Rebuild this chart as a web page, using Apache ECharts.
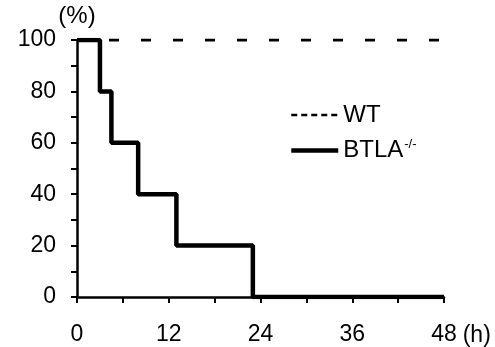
<!DOCTYPE html>
<html><head><meta charset="utf-8">
<script src="https://cdn.jsdelivr.net/npm/echarts@6/dist/echarts.min.js"></script>
<style>html,body{margin:0;padding:0;background:#fff}#c{width:495px;height:347px}</style>
</head><body><div id="c"></div>
<script>
const xTicks = [0, 12, 24, 36, 48];
const yTicks = [0, 20, 40, 60, 80, 100];
const wtTimes = [0, 48];
const wtSurvival = [100, 100];
const btlaTimes = [0, 3, 4.5, 8, 13, 23, 48];
const btlaSurvival = [100, 80, 60, 40, 20, 0, 0];
const seriesNames = ['WT', 'BTLA-/-'];

const zip = (a, b) => a.map((v, i) => [v, b[i]]);
const font = 'Liberation Sans, Arial, sans-serif';
const chart = echarts.init(document.getElementById('c'), null, {renderer: 'canvas'});
chart.setOption({
  animation: false,
  backgroundColor: '#fff',
  grid: {left: 77, right: 51, top: 40, bottom: 49, containLabel: false},
  legend: {
    left: 284, top: 98, orient: 'vertical', itemWidth: 47, itemHeight: 16, itemGap: 11,
    data: [
      {name: seriesNames[0], itemStyle: {opacity: 0}, lineStyle: {color: '#000', width: 2.5, type: [6, 4]}},
      {name: seriesNames[1], itemStyle: {opacity: 0}, lineStyle: {color: '#000', width: 4.5, type: 'solid'}}
    ],
    textStyle: {fontFamily: font, fontSize: 24, color: '#000',
      rich: {a: {fontFamily: font, fontSize: 24, color: '#000'},
             s: {fontFamily: font, fontSize: 13, color: '#000', verticalAlign: 'top', padding: [0, 0, 12, 1]}}},
    formatter: n => n === 'BTLA-/-' ? '{a|BTLA}{s|-/-}' : '{a|' + n + '}'
  },
  xAxis: {
    type: 'value', min: 0, max: 48, interval: 12,
    name: '(h)', nameLocation: 'end', nameGap: 11,
    nameTextStyle: {fontFamily: font, fontSize: 23, color: '#000', verticalAlign: 'top', padding: [27, 0, 0, 0]},
    axisLine: {show: true, lineStyle: {color: '#000', width: 2.5}},
    axisTick: {show: true, inside: false, length: 6, lineStyle: {color: '#000', width: 2}},
    minorTick: {show: true, splitNumber: 2, length: 6, lineStyle: {color: '#000', width: 2}},
    splitLine: {show: false},
    axisLabel: {fontFamily: font, fontSize: 23, color: '#000', margin: 26,
      formatter: v => xTicks.includes(v) ? String(v) : ''}
  },
  yAxis: {
    type: 'value', min: 0, max: 100, interval: 20,
    name: '(%)', nameLocation: 'end', nameGap: 4,
    nameTextStyle: {fontFamily: font, fontSize: 24, color: '#000'},
    axisLine: {show: true, lineStyle: {color: '#000', width: 2.5}},
    axisTick: {show: true, inside: false, length: 6, lineStyle: {color: '#000', width: 2}},
    minorTick: {show: true, splitNumber: 2, length: 6, lineStyle: {color: '#000', width: 2}},
    splitLine: {show: false},
    axisLabel: {fontFamily: font, fontSize: 23, color: '#000', margin: 21,
      formatter: v => yTicks.includes(v) ? String(v) : ''}
  },
  series: [
    {name: seriesNames[0], type: 'line', symbol: 'none', data: zip(wtTimes, wtSurvival),
      lineStyle: {color: '#000', width: 3, type: [10, 22]}, itemStyle: {color: '#000'}, z: 3},
    {name: seriesNames[1], type: 'line', symbol: 'none', step: 'end', data: zip(btlaTimes, btlaSurvival),
      lineStyle: {color: '#000', width: 4.5}, itemStyle: {color: '#000'}, z: 4}
  ]
});
</script></body></html>
